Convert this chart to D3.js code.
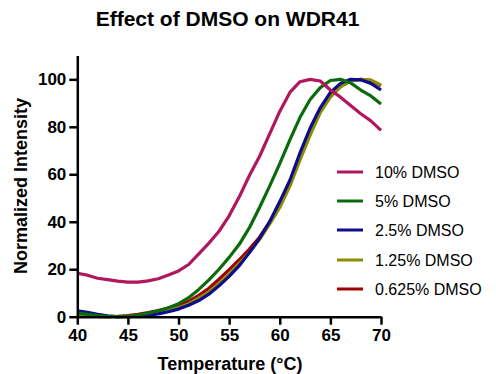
<!DOCTYPE html>
<html><head><meta charset="utf-8">
<script src="https://cdn.jsdelivr.net/npm/d3@7"></script>
<style>
body{margin:0;background:#fff;}
text{font-family:"Liberation Sans",Arial,sans-serif;}
</style></head>
<body><svg id="c" width="496" height="374"></svg>
<script>
const temps = [40,41,42,43,44,45,46,47,48,49,50,51,52,53,54,55,56,57,58,59,60,61,62,63,64,65,66,67,68,69,70];
const dmso10 = [18.3,17.5,16.2,15.6,15.0,14.6,14.6,15.1,16.0,17.6,19.3,22.0,26.5,31.0,36.0,42.5,50.5,59.5,67.5,77.0,86.5,94.5,99.0,100.0,99.3,95.5,92.5,89.0,85.5,82.5,78.5];
const dmso5 = [1.5,1.0,0.5,0.2,0.0,0.2,0.7,1.5,2.5,3.8,5.5,8.0,11.5,15.5,20.0,25.0,30.5,37.5,46.0,55.0,64.5,74.5,84.0,91.5,96.5,99.5,100.0,98.5,95.5,93.0,89.6];
const dmso2_5 = [2.5,1.8,1.0,0.4,0.0,0.0,0.2,0.6,1.2,2.1,3.2,4.8,6.8,9.5,13.0,17.0,21.5,27.0,33.0,40.0,48.5,57.5,69.0,79.5,88.0,94.5,98.3,100.0,99.8,98.3,95.5];
const dmso1_25 = [0.5,0.3,0.1,0.0,0.0,0.2,0.6,1.2,1.9,2.8,3.8,5.5,7.8,10.5,14.0,18.0,22.5,27.0,32.5,39.0,46.0,55.0,66.0,76.5,86.0,92.5,96.8,99.3,100.0,99.7,97.5];
const dmso0_625 = [0.3,0.2,0.1,0.0,0.2,0.5,1.0,1.7,2.6,3.6,4.6,6.5,9.0,12.0,15.8,19.8,24.0,28.5,33.5,40.0,47.0,56.0,66.8,77.0,86.5,93.0,97.0,99.4,100.0,99.6,97.3];
const seriesNames = ["10% DMSO","5% DMSO","2.5% DMSO","1.25% DMSO","0.625% DMSO"];
const seriesValues = [dmso10, dmso5, dmso2_5, dmso1_25, dmso0_625];
const seriesColors = ["#B0175F","#0A6B0A","#0C0C8C","#8C8C00","#A00000"];
const xTicks = [40,45,50,55,60,65,70];
const yTicks = [0,20,40,60,80,100];

const svg = d3.select("#c");
const x = d3.scaleLinear().domain([40,70]).range([77.3,381]);
const y = d3.scaleLinear().domain([0,110]).range([316.7,55.6]);

// lines (draw last series first so first is on top)
const line = d3.line().x((d,i)=>x(temps[i])).y(d=>y(d));
for (let k = seriesValues.length-1; k >= 0; k--) {
  svg.append("path").datum(seriesValues[k])
    .attr("d", line).attr("fill","none")
    .attr("stroke", seriesColors[k]).attr("stroke-width",3.2)
    .attr("stroke-linejoin","round");
}

// axes
const xa = svg.append("g").attr("transform",`translate(0,${y(0)})`)
  .call(d3.axisBottom(x).tickValues(xTicks).tickSize(8).tickSizeOuter(0).tickPadding(4));
const ya = svg.append("g").attr("transform",`translate(${x(40)},0)`)
  .call(d3.axisLeft(y).tickValues(yTicks).tickSize(8).tickSizeOuter(0).tickPadding(3));
[xa,ya].forEach(g=>{
  g.select(".domain").attr("stroke","#000").attr("stroke-width",2.5);
  g.selectAll(".tick line").attr("stroke","#000").attr("stroke-width",2.5);
  g.selectAll(".tick text").attr("fill","#000").attr("font-size",17).attr("font-weight","bold")
    .style("font-family",'"Liberation Sans",Arial,sans-serif');
});

// titles
svg.append("text").attr("x",227.5).attr("y",26).attr("text-anchor","middle")
  .attr("font-size",21).attr("font-weight","bold").text("Effect of DMSO on WDR41");
svg.append("text").attr("x",230).attr("y",370).attr("text-anchor","middle")
  .attr("font-size",18).attr("font-weight","bold").text("Temperature (°C)");
svg.append("text").attr("transform","translate(27,186) rotate(-90)").attr("text-anchor","middle")
  .attr("font-size",18).attr("font-weight","bold").text("Normalized Intensity");

// legend
const legY = [172,201,230,260,289];
seriesNames.forEach((n,i)=>{
  svg.append("line").attr("x1",337).attr("x2",363).attr("y1",legY[i]).attr("y2",legY[i])
    .attr("stroke",seriesColors[i]).attr("stroke-width",3);
  svg.append("text").attr("x",375).attr("y",legY[i]).attr("dy","0.36em")
    .attr("font-size",16).text(n);
});
</script></body></html>
